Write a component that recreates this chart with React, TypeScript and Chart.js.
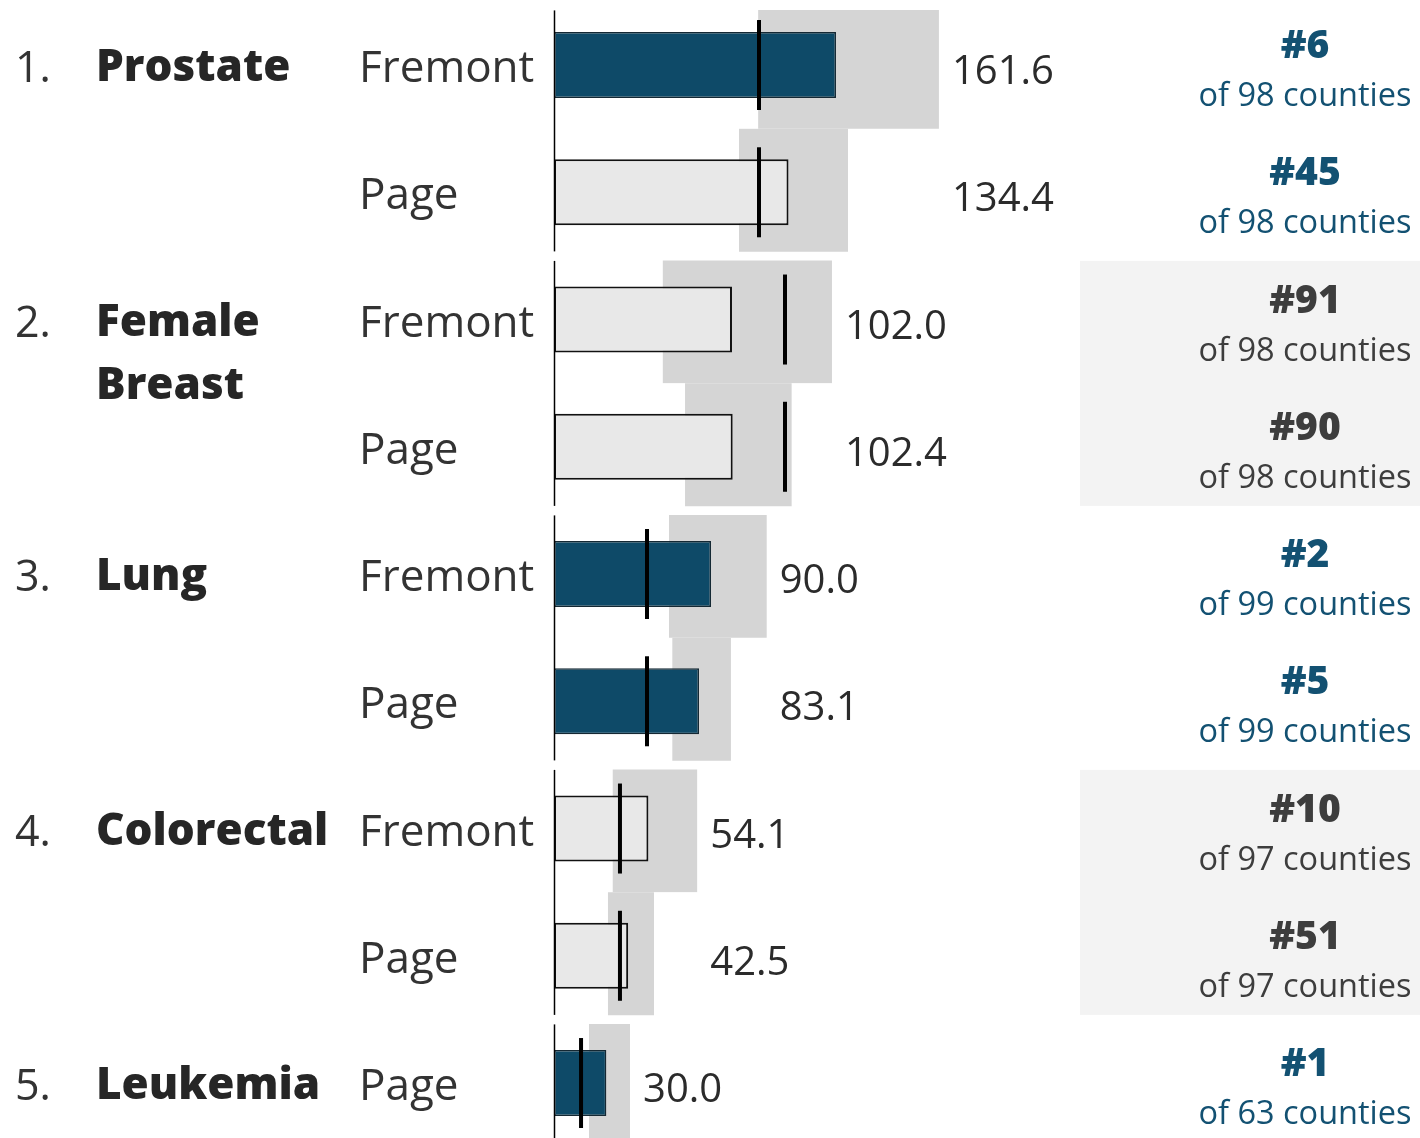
import React, { useEffect, useRef } from "react";
import { Chart, registerables } from "chart.js";

Chart.register(...registerables);

// ---- data ----
const cancerNames = ["Prostate", "Female Breast", "Lung", "Colorectal", "Leukemia"];
const rowCancer = [0, 0, 1, 1, 2, 2, 3, 3, 4];
const rowCounty = ["Fremont", "Page", "Fremont", "Page", "Fremont", "Page", "Fremont", "Page", "Page"];
const countyRates = [161.6, 134.4, 102.0, 102.4, 90.0, 83.1, 54.1, 42.5, 30.0];
const stateRates = [117.5, 117.5, 132.4, 132.4, 53.3, 53.3, 37.8, 37.8, 15.5];
const ciLow = [117.0, 106.0, 62.3, 75.1, 65.9, 67.8, 33.6, 30.9, 20.1];
const ciHigh = [220.6, 168.5, 159.3, 136.2, 121.9, 101.4, 82.1, 57.3, 43.6];
const countyRanks = [6, 45, 91, 90, 2, 5, 10, 51, 1];
const countiesRanked = [98, 98, 98, 98, 99, 99, 97, 97, 63];
const highlighted = [true, false, false, false, true, true, false, false, true];

const FONT = '"Open Sans", "Noto Sans", sans-serif';
const DARK_BLUE = "#0e4a68";
const RANK_BLUE = "#135172";
const TEXT = "#333333";

const rowIdx = countyRates.map((_, i) => i);
const groups = cancerNames.map((_, c) => {
  const rows = rowIdx.filter((r) => rowCancer[r] === c);
  return { c, rows, first: rows[0], last: rows[rows.length - 1], hi: rows.some((r) => highlighted[r]) };
});
const isFirst = (r: number) => r === 0 || rowCancer[r - 1] !== rowCancer[r];
const isLast = (r: number) => r === rowCancer.length - 1 || rowCancer[r + 1] !== rowCancer[r];
const topInset = (r: number) => (r === 0 ? 9 : 5);

const overlay = {
  id: "overlay",
  beforeDatasetsDraw(chart: any) {
    const { ctx } = chart;
    const y = chart.scales.y;
    ctx.save();
    groups.forEach((g) => {
      if (!g.hi) {
        const top = y.getPixelForValue(g.first - 0.5) + topInset(g.first);
        const bottom = y.getPixelForValue(g.last + 0.5) - 4.5;
        ctx.fillStyle = "#f3f3f3";
        ctx.fillRect(1080, top, 340, bottom - top);
      }
    });
    ctx.restore();
  },
  afterDatasetsDraw(chart: any) {
    const { ctx } = chart;
    const x = chart.scales.x;
    const y = chart.scales.y;
    ctx.save();
    // axis segments per group
    const x0 = Math.round(x.getPixelForValue(0)) + 0.5;
    ctx.strokeStyle = "#000";
    ctx.lineWidth = 1.5;
    groups.forEach((g) => {
      const top = y.getPixelForValue(g.first - 0.5) + topInset(g.first);
      const bottom = Math.min(y.getPixelForValue(g.last + 0.5) - 4.5, chart.height);
      ctx.beginPath();
      ctx.moveTo(x0, top);
      ctx.lineTo(x0, bottom);
      ctx.stroke();
    });

    // left labels
    ctx.textBaseline = "alphabetic";
    ctx.textAlign = "left";
    groups.forEach((g) => {
      const cy = y.getPixelForValue(g.first);
      ctx.fillStyle = TEXT;
      ctx.font = `400 43px ${FONT}`;
      ctx.fillText(`${g.c + 1}.`, 15, cy + 17);
      ctx.fillStyle = "#262626";
      ctx.font = `800 44px ${FONT}`;
      cancerNames[g.c].split(" ").forEach((w, k) => {
        ctx.fillText(w, 96, cy + 16 + k * 63);
      });
    });
    rowIdx.forEach((r) => {
      const cy = y.getPixelForValue(r);
      ctx.fillStyle = TEXT;
      ctx.font = `400 44px ${FONT}`;
      ctx.textAlign = "left";
      ctx.fillText(rowCounty[r], 359, cy + 17);
    });

    // value labels
    groups.forEach((g) => {
      const gMax = Math.max(...g.rows.map((r) => ciHigh[r]));
      const lx = x.getPixelForValue(gMax) + 13;
      g.rows.forEach((r) => {
        const cy = y.getPixelForValue(r);
        ctx.fillStyle = "#2b2b2b";
        ctx.font = `400 40px ${FONT}`;
        ctx.textAlign = "left";
        ctx.fillText(countyRates[r].toFixed(1), lx, cy + 19);
      });
    });

    // ranks
    groups.forEach((g) => {
      const col = g.hi ? RANK_BLUE : "#3d3d3d";
      g.rows.forEach((r) => {
        const cy = y.getPixelForValue(r);
        ctx.fillStyle = col;
        ctx.textAlign = "center";
        ctx.font = `800 39px ${FONT}`;
        ctx.fillText(`#${countyRanks[r]}`, 1305, cy - 7);
        ctx.font = `400 32.5px ${FONT}`;
        ctx.fillText(`of ${countiesRanked[r]} counties`, 1305, cy + 41);
      });
    });
    ctx.restore();
  },
};

export default function App() {
  const ref = useRef<HTMLCanvasElement | null>(null);
  useEffect(() => {
    if (!ref.current) return;
    const chart = new Chart(ref.current, {
      type: "bar",
      data: {
        datasets: [
          {
            type: "scatter",
            label: "State rate",
            data: rowIdx.map((r) => ({ x: stateRates[r], y: r })),
            pointStyle: "line",
            pointRadius: 45,
            pointHoverRadius: 45,
            pointRotation: 90,
            pointBorderColor: "#000",
            pointBorderWidth: 4,
            showLine: false,
            clip: false,
            order: 1,
          } as any,
          {
            type: "bar",
            label: "County rate",
            indexAxis: "y",
            data: rowIdx.map((r) => ({ x: countyRates[r], y: r })),
            backgroundColor: rowIdx.map((r) => (highlighted[r] ? DARK_BLUE : "#e8e8e8")),
            borderColor: rowIdx.map((r) => (highlighted[r] ? "#142833" : "#111")),
            borderWidth: rowIdx.map((r) => (highlighted[r] ? 1.5 : 2)),
            borderSkipped: false,
            grouped: false,
            categoryPercentage: 1,
            barPercentage: 0.52,
            order: 2,
          } as any,
          {
            type: "bar",
            label: "Confidence interval",
            indexAxis: "y",
            data: rowIdx.map((r) => ({ x: [ciLow[r], ciHigh[r]], y: r })),
            backgroundColor: "#d5d5d5",
            borderColor: "#ffffff",
            borderWidth: (c: any) => ({
              top: isFirst(c.dataIndex) ? topInset(c.dataIndex) : 0,
              bottom: isLast(c.dataIndex) ? 4.5 : 0,
              left: 0,
              right: 0,
            }),
            borderSkipped: false,
            grouped: false,
            categoryPercentage: 1,
            barPercentage: 1,
            order: 3,
          } as any,
        ],
      },
      options: {
        responsive: false,
        animation: false,
        devicePixelRatio: 1,
        events: [],
        layout: { autoPadding: false, padding: { left: 554, right: 0, top: 0, bottom: 0 } },
        plugins: { legend: { display: false }, tooltip: { enabled: false } },
        scales: {
          x: { type: "linear", display: false, offset: false, grid: { offset: false }, min: 0, max: 496.3 },
          y: {
            type: "linear",
            display: false,
            offset: false,
            grid: { offset: false },
            reverse: true,
            min: -0.511,
            max: 8.432,
            ticks: { stepSize: 1, includeBounds: false },
          },
        },
      } as any,
      plugins: [overlay],
    });
    return () => chart.destroy();
  }, []);
  return (
    <div style={{ position: "absolute", left: 0, top: 0, width: 1420, height: 1138, background: "#fff" }}>
      <canvas ref={ref} width={1420} height={1138} style={{ display: "block" }} />
    </div>
  );
}
